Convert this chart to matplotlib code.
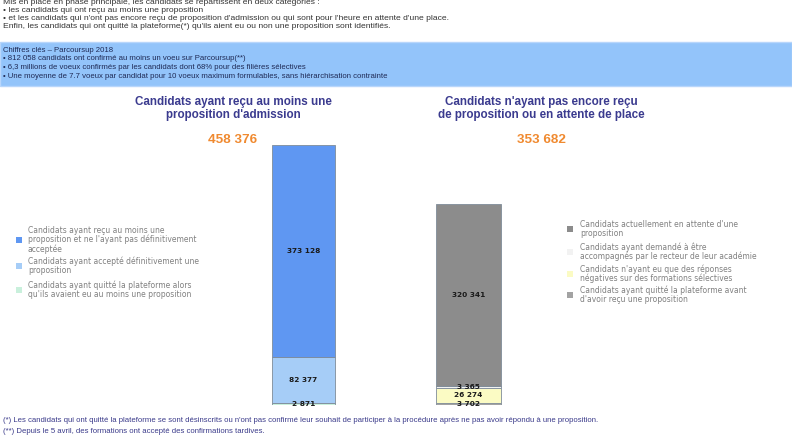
import matplotlib
matplotlib.use("Agg")
import matplotlib.pyplot as plt
from matplotlib.patches import Rectangle

W, H = 792, 446

# data
left_labels = [
    "Candidats ayant quitté la plateforme alors\nqu'ils avaient eu au moins une proposition",
    "Candidats ayant accepté définitivement une\nproposition",
    "Candidats ayant reçu au moins une\nproposition et ne l'ayant pas définitivement\nacceptée",
]
left_values = [2871, 82377, 373128]
left_colors = ["#c9f0dc", "#a6cdf7", "#5f97f2"]

right_labels = [
    "Candidats ayant quitté la plateforme avant\nd'avoir reçu une proposition",
    "Candidats n'ayant eu que des réponses\nnégatives sur des formations sélectives",
    "Candidats ayant demandé à être\naccompagnés par le recteur de leur académie",
    "Candidats actuellement en attente d'une\nproposition",
]
right_values = [3702, 26274, 3365, 320341]
right_colors = ["#a3a3a3", "#fbfbc4", "#f2f2f2", "#8c8c8c"]

titles = ["Candidats ayant reçu au moins une\nproposition d'admission",
          "Candidats n'ayant pas encore reçu\nde proposition ou en attente de place"]
totals = [sum(left_values), sum(right_values)]

intro = [
    "Mis en place en phase principale, les candidats se répartissent en deux catégories :",
    "• les candidats qui ont reçu au moins une proposition",
    "• et les candidats qui n'ont pas encore reçu de proposition d'admission ou qui sont pour l'heure en attente d'une place.",
    "Enfin, les candidats qui ont quitté la plateforme(*) qu'ils aient eu ou non une proposition sont identifiés.",
]
key_figures = [
    "Chiffres clés – Parcoursup 2018",
    "• 812 058 candidats ont confirmé au moins un voeu sur Parcoursup(**)",
    "• 6,3 millions de voeux confirmés par les candidats dont 68% pour des filières sélectives",
    "• Une moyenne de 7.7 voeux par candidat pour 10 voeux maximum formulables, sans hiérarchisation contrainte",
]
notes = [
    "(*) Les candidats qui ont quitté la plateforme se sont désinscrits ou n'ont pas confirmé leur souhait de participer "
    "à la procédure après ne pas avoir répondu à une proposition.",
    "(**) Depuis le 5 avril, des formations ont accepté des confirmations tardives.",
]


def fx(x):
    return x / W


def fy(y):
    return 1 - y / H


def fmt(v):
    return f"{v:,}".replace(",", " ")


fig = plt.figure(figsize=(W / 100, H / 100), dpi=100)
fig.patch.set_facecolor("white")
sans = "Liberation Sans"

# header text
for yy, line in zip([3, 10.5, 18.5, 26.5], intro):
    fig.text(fx(3), fy(yy), line, fontsize=6.1, color="#333333",
             family=sans, va="center", ha="left")

band = Rectangle((0, fy(86)), 1, (86 - 42) / H, transform=fig.transFigure,
                 facecolor="#93c4fa", edgecolor="#b8d6fb", lw=1, zorder=0)
fig.patches.append(band)
for i, line in enumerate(key_figures):
    fig.text(fx(3), fy(50 + 8.7 * i), line, fontsize=5.6, color="#1f2a55",
             family=sans, va="center", ha="left")

# titles and totals
for cx, title, tot in zip([233, 541], titles, totals):
    fig.text(fx(cx), fy(108.5), title, fontsize=8.4, color="#3b3b8f", family=sans,
             weight="bold", ha="center", va="center", linespacing=1.1)
    fig.text(fx(cx), fy(140), fmt(tot), fontsize=9.7, color="#f08a30", family=sans,
             weight="bold", ha="center", va="center")

# bars
bottom_px, top_px = 405, 140
ax = fig.add_axes([0, fy(bottom_px), 1, (bottom_px - top_px) / H])
ax.set_xlim(0, W)
ax.set_ylim(0, totals[0] * (bottom_px - top_px) / 260)
ax.axis("off")

for cx, width, vals, cols in [(303.5, 63, left_values, left_colors),
                              (468.5, 65, right_values, right_colors)]:
    base = 0
    for v, c in zip(vals, cols):
        ax.bar(cx, v, width=width, bottom=base, color=c, edgecolor="#7f8c99", linewidth=0.6)
        ax.text(cx, base + v / 2, fmt(v), ha="center", va="center", fontsize=5.3,
                weight="bold", color="#1a1a1a", family="DejaVu Sans")
        base += v

# legends
leg_font = dict(fontsize=5.5, color="#808080", family="DejaVu Sans", va="center", ha="left",
                multialignment="left", linespacing=0.95)
for yc, lab, col in zip([290, 266, 240], left_labels, left_colors):
    fig.patches.append(Rectangle((fx(16), fy(yc + 3)), 6 / W, 6 / H, transform=fig.transFigure,
                                 facecolor=col, edgecolor="none"))
    fig.text(fx(28), fy(yc), lab, **leg_font)
for yc, lab, col in zip([295, 274, 252, 229], right_labels, right_colors):
    fig.patches.append(Rectangle((fx(567), fy(yc + 3)), 6 / W, 6 / H, transform=fig.transFigure,
                                 facecolor=col, edgecolor="none"))
    fig.text(fx(580), fy(yc), lab, **leg_font)

# footnotes
for i, line in enumerate(notes):
    fig.text(fx(3), fy(421 + 10.5 * i), line, fontsize=5.6, color="#3a3a8a",
             family=sans, va="center", ha="left")

fig.savefig("out.png", dpi=100, facecolor="white")
